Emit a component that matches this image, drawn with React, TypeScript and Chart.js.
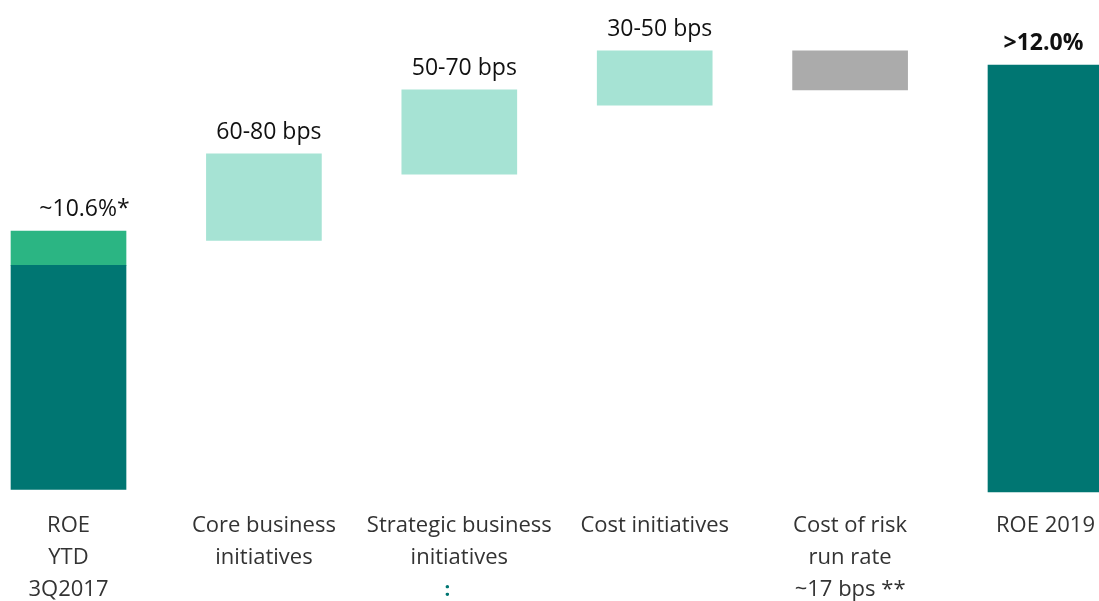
import React, { useEffect, useRef } from "react";
import { Chart, registerables } from "chart.js";

Chart.register(...registerables);

// Categories (multi-line labels)
const categories: string[][] = [
  ["ROE", "YTD", "3Q2017"],
  ["Core business", "initiatives"],
  ["Strategic business", "initiatives"],
  ["Cost initiatives"],
  ["Cost of risk", "run rate", "~17 bps **"],
  ["ROE 2019"],
];

// Floating bar ranges in ROE % (low, high)
const barLow: number[] = [8.42, 10.52, 11.08, 11.66, 11.79, 8.4];
const barHigh: number[] = [10.31, 11.25, 11.79, 12.12, 12.12, 12.0];
// Extra segment on the first bar
const firstExtraLow = 10.31;
const firstExtraHigh = 10.6;

const topLabels: string[] = ["~10.6%*", "60-80 bps", "50-70 bps", "30-50 bps", "", ">12.0%"];
const BOLD_LABEL_INDEX = 5;

const DARK = "#007672";
const GREEN = "#2BB583";
const MINT = "#A6E3D4";
const GREY = "#ABABAB";
const barColors = [DARK, MINT, MINT, MINT, GREY, DARK];

const FONT = "'Open Sans', 'Noto Sans', sans-serif";

export default function App() {
  const ref = useRef<HTMLCanvasElement | null>(null);

  useEffect(() => {
    document.body.style.margin = "0";
    const canvas = ref.current!;
    const labelPlugin = {
      id: "topLabels",
      afterDatasetsDraw(chart: any) {
        const ctx = chart.ctx;
        const tops: Record<number, { x: number; y: number }> = {};
        chart.data.datasets.forEach((ds: any, di: number) => {
          const meta = chart.getDatasetMeta(di);
          meta.data.forEach((el: any, j: number) => {
            const idx = ds.data[j].x;
            const top = Math.min(el.y, el.base);
            if (!tops[idx] || top < tops[idx].y) tops[idx] = { x: el.x, y: top };
          });
        });
        ctx.save();
        ctx.textAlign = "center";
        ctx.textBaseline = "bottom";
        topLabels.forEach((t, i) => {
          if (!t || !tops[i]) return;
          ctx.fillStyle = "#111";
          ctx.font = (i === BOLD_LABEL_INDEX ? "bold " : "") + "23px " + FONT;
          ctx.fillText(t, tops[i].x + (i === 0 ? 16 : i === BOLD_LABEL_INDEX ? -2 : 5), tops[i].y - 10);
        });
        // teal marker under "Strategic business initiatives"
        const xs = chart.scales.x;
        ctx.fillStyle = DARK;
        ctx.font = "bold 20px " + FONT;
        ctx.textBaseline = "middle";
        ctx.fillText(":", xs.getPixelForValue(2) - 12, 590);
        ctx.restore();
      },
    };

    const chart = new Chart(canvas, {
      type: "bar",
      data: {
        datasets: [
          {
            data: categories.map((_, i) => ({ x: i, y: [barLow[i], barHigh[i]] })) as any,
            backgroundColor: barColors,
            barThickness: 115,
            grouped: false,
          } as any,
          {
            data: [{ x: 0, y: [firstExtraLow, firstExtraHigh] }] as any,
            backgroundColor: GREEN,
            barThickness: 115,
            grouped: false,
          } as any,
        ],
      },
      options: {
        responsive: false,
        animation: false,
        layout: { padding: 0 },
        plugins: { legend: { display: false }, tooltip: { enabled: false } },
        scales: {
          x: {
            type: "linear",
            offset: false,
            min: -0.3506,
            max: 5.2738,
            grid: { display: false, drawTicks: false, offset: false },
            border: { display: false },
            afterBuildTicks: (scale: any) => {
              scale.ticks = categories.map((_, i) => ({ value: i }));
            },
            afterFit: (scale: any) => {
              scale.height = 101;
              scale.paddingLeft = 0;
              scale.paddingRight = 0;
            },
            ticks: {
              autoSkip: false,
              maxRotation: 0,
              minRotation: 0,
              padding: 10,
              color: "#333",
              font: { family: FONT, size: 22, lineHeight: 1.455 },
              callback: (v: any) => categories[v as number] ?? "",
            },
          },
          y: {
            display: false,
            min: 8.331,
            max: 12.548,
          },
        },
      },
      plugins: [labelPlugin],
    } as any);
    return () => chart.destroy();
  }, []);

  return (
    <div style={{ position: "absolute", left: 0, top: 0, width: 1099, height: 601 }}>
      <canvas ref={ref} width={1099} height={601} />
    </div>
  );
}
